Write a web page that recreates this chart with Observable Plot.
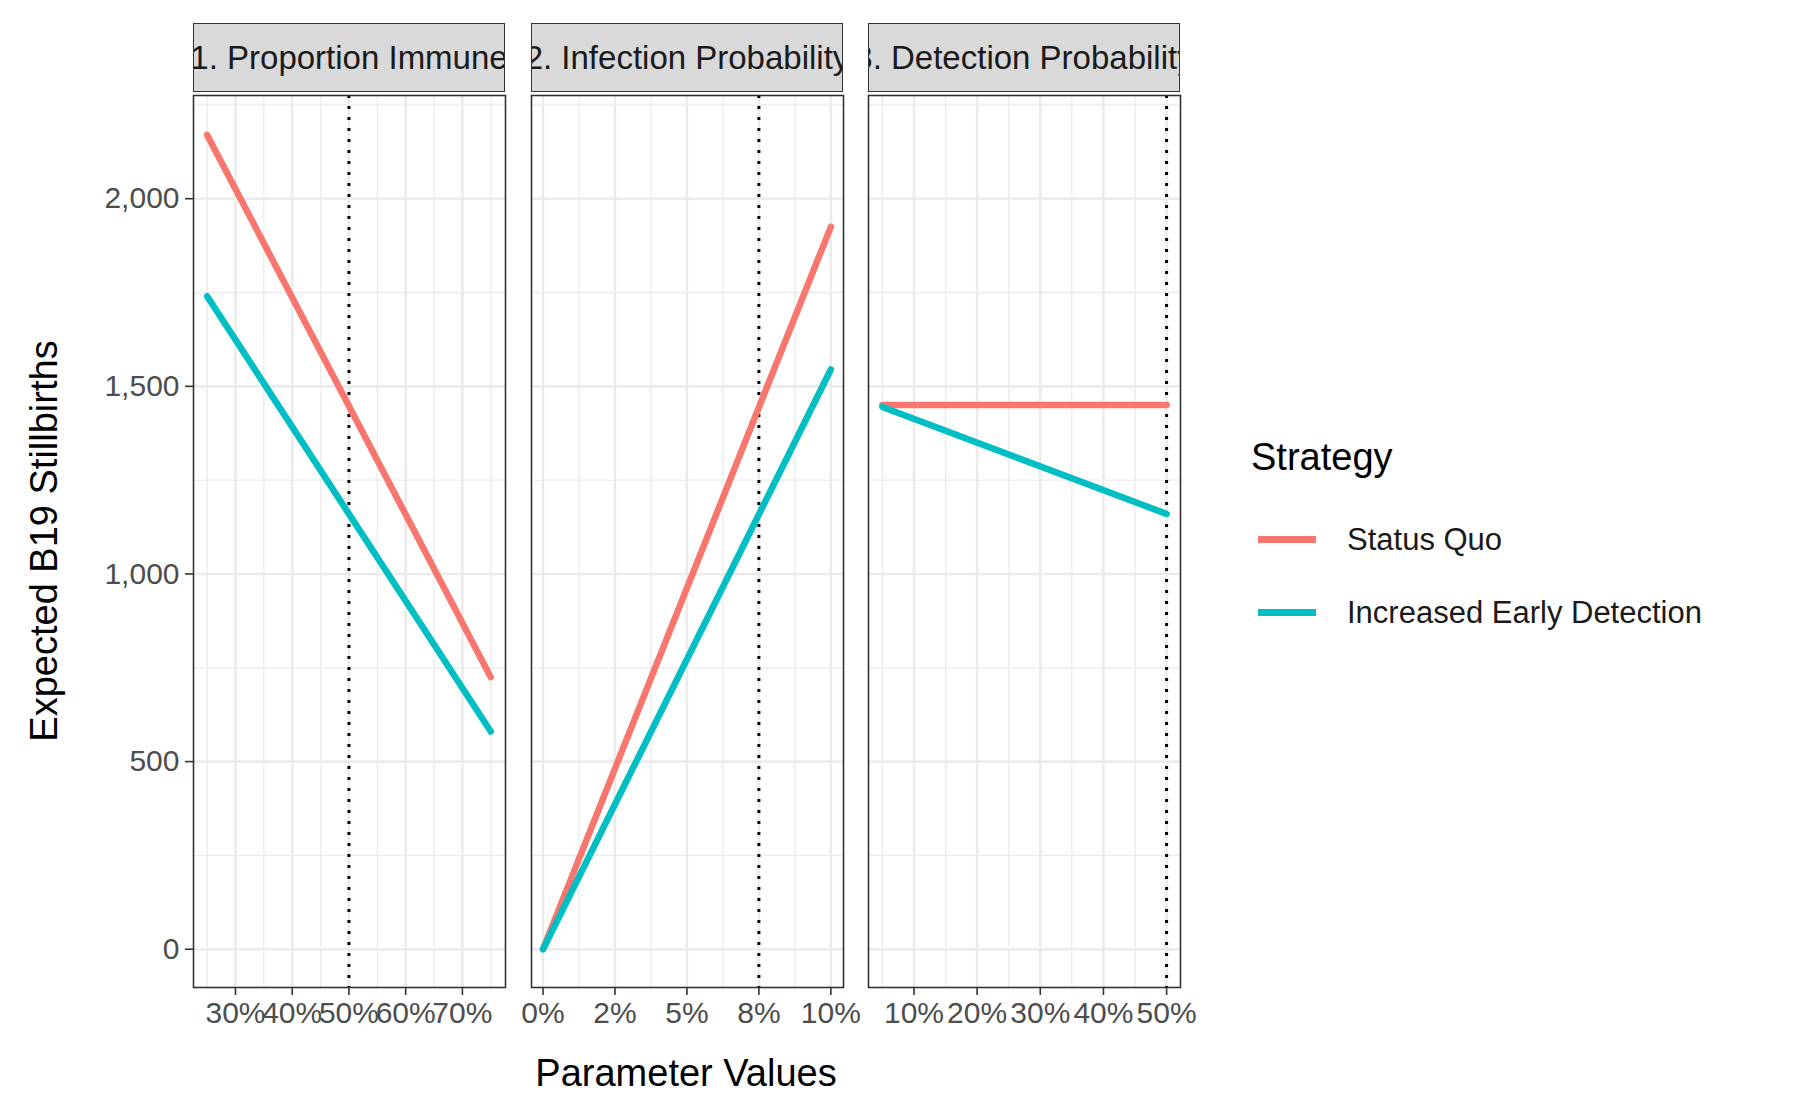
<!DOCTYPE html>
<html><head><meta charset="utf-8">
<script src="https://cdn.jsdelivr.net/npm/d3@7"></script>
<script src="https://cdn.jsdelivr.net/npm/@observablehq/plot@0.6"></script>
<style>
body{margin:0;background:#fff;font-family:"Liberation Sans",Arial,sans-serif;}
#root{position:relative;width:1796px;height:1110px;overflow:hidden;}
.strip{position:absolute;top:23px;height:69px;background:#d9d9d9;border:1.5px solid #333;box-sizing:border-box;overflow:hidden;display:flex;justify-content:center;align-items:center;}
.strip span{white-space:nowrap;font-size:33px;color:#1a1a1a;}
svg{overflow:visible;}
.pl{position:absolute;top:95px;}
</style></head><body><div id="root"></div>
<script>
const strategies=["Status Quo","Increased Early Detection"];
const colors=["#F8766D","#00BFC4"];
const panelLabels=["1. Proportion Immune","2. Infection Probability","3. Detection Probability"];
const panelX=[[25,75],[0,10],[5,50]];
const statusQuo=[[2170,725],[0,1925],[1450,1450]];
const earlyDetection=[[1740,580],[0,1545],[1445,1160]];
const baseline=[50,7.5,50];
const xDomains=[[22.6,77.6],[-0.4,10.44],[2.8,52.2]];
const xTicks=[[30,40,50,60,70],[0,2.5,5,7.5,10],[10,20,30,40,50]];
const xTickLabels=[["30%","40%","50%","60%","70%"],["0%","2%","5%","8%","10%"],["10%","20%","30%","40%","50%"]];
const xMinor=[[25,35,45,55,65,75],[1.25,3.75,6.25,8.75],[5,15,25,35,45]];
const yTicks=[0,500,1000,1500,2000];
const yTickLabels=["0","500","1,000","1,500","2,000"];
const yMinor=[250,750,1250,1750,2250];
const yDomain=[-102,2275];

const root=document.getElementById("root");
const lefts=[193,531,868], pw=312, ph=892;
for(let i=0;i<3;i++){
  const s=document.createElement("div");s.className="strip";
  s.style.left=lefts[i]+"px";s.style.width=pw+"px";
  s.innerHTML="<span>"+panelLabels[i]+"</span>";root.appendChild(s);
  const data=[];
  strategies.forEach((st,k)=>{const v=k===0?statusQuo[i]:earlyDetection[i];
    panelX[i].forEach((x,j)=>data.push({x,y:v[j],s:st}));});
  const ml=i===0?193:0;
  const p=Plot.plot({
    width:pw+ml,height:ph+60,marginLeft:ml,marginRight:0,marginTop:0,marginBottom:60,
    style:{fontFamily:"Liberation Sans, Arial, sans-serif",fontSize:"26px",color:"#4d4d4d",background:"transparent"},
    x:{domain:xDomains[i],label:null,axis:null},
    y:{domain:yDomain,label:null,axis:null},
    color:{domain:strategies,range:colors},
    marks:[
      Plot.ruleX(xMinor[i],{stroke:"#ebebeb",strokeWidth:1.3}),
      Plot.ruleY(yMinor,{stroke:"#ebebeb",strokeWidth:1.3}),
      Plot.ruleX(xTicks[i],{stroke:"#ebebeb",strokeWidth:2.6}),
      Plot.ruleY(yTicks,{stroke:"#ebebeb",strokeWidth:2.6}),
      Plot.ruleX([baseline[i]],{stroke:"#000",strokeWidth:3,strokeDasharray:"3,8"}),
      Plot.line(data,{x:"x",y:"y",z:"s",stroke:"s",strokeWidth:6.5}),
      Plot.frame({stroke:"#333",strokeWidth:1.6}),
      Plot.axisX({ticks:xTicks[i],tickFormat:(d)=>xTickLabels[i][xTicks[i].indexOf(d)],tickSize:8,tickPadding:6,stroke:"#333",strokeWidth:1.6,fill:"#4d4d4d",fontSize:30,label:null}),
      ...(i===0?[Plot.axisY({ticks:yTicks,tickFormat:(d)=>yTickLabels[yTicks.indexOf(d)],tickSize:8,tickPadding:6,stroke:"#333",strokeWidth:1.6,fill:"#4d4d4d",fontSize:30,label:null})]:[])
    ]
  });
  p.classList.add("pl");p.style.left=(lefts[i]-ml)+"px";root.appendChild(p);
}
function txt(html,css){const d=document.createElement("div");d.style.cssText="position:absolute;white-space:nowrap;color:#000;"+css;d.innerHTML=html;root.appendChild(d);}
txt("Parameter Values","left:686px;top:1052px;font-size:38px;transform:translateX(-50%);");
txt("Expected B19 Stillbirths","left:44px;top:541px;font-size:38px;transform:translate(-50%,-50%) rotate(-90deg);");
txt("Strategy","left:1251px;top:436px;font-size:38px;");
strategies.forEach((s,k)=>{
  txt("","left:1258px;top:"+(536+k*73)+"px;width:58px;height:7px;background:"+colors[k]+";");
  txt(s,"left:1347px;top:"+(522+k*73)+"px;font-size:31px;color:#1a1a1a;");
});
</script></body></html>
